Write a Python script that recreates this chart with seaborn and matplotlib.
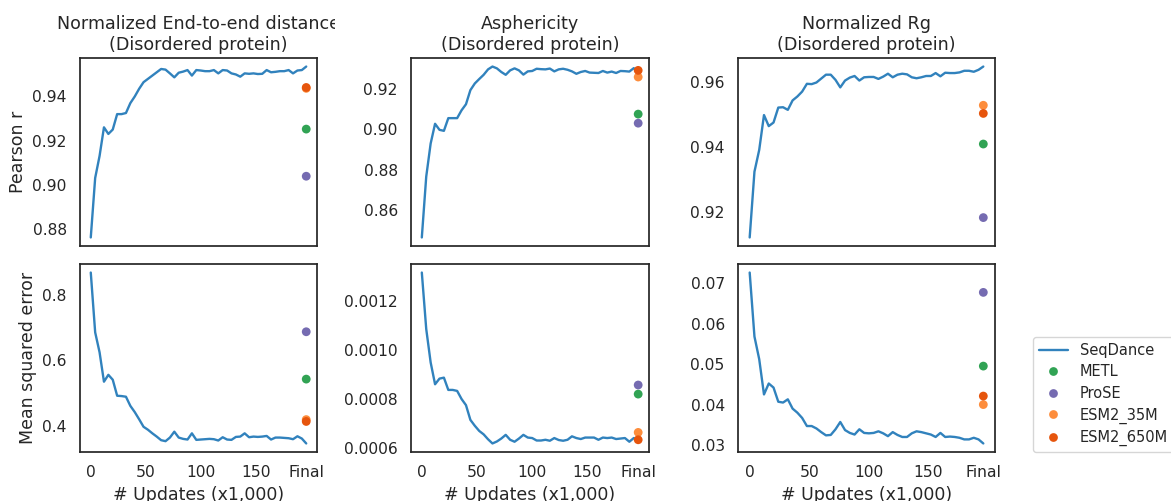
import numpy as np
import pandas as pd
import matplotlib
matplotlib.use("Agg")
import matplotlib.pyplot as plt
import seaborn as sns
from matplotlib.transforms import Bbox, TransformedBbox
from matplotlib.lines import Line2D

sns.set_theme(style="white", context="notebook")
plt.rcParams["font.family"] = ["DejaVu Sans"]

# ---------------- data ----------------
updates = [0, 4, 8, 12, 16, 20, 24, 28, 32, 36, 40, 44, 48, 52, 56, 60, 64, 68, 72, 76,
           80, 84, 88, 92, 96, 100, 104, 108, 112, 116, 120, 124, 128, 132, 136, 140,
           144, 148, 152, 156, 160, 164, 168, 172, 176, 180, 184, 188, 192, 196]
final_x = 196
xtick_vals = [0, 50, 100, 150, 196]
xtick_labels = ["0", "50", "100", "150", "Final"]

titles = ["Normalized End-to-end distance\n(Disordered protein)",
          "Asphericity\n(Disordered protein)",
          "Normalized Rg\n(Disordered protein)"]
row_labels = ["Pearson r", "Mean squared error"]
xlabel = "# Updates (x1,000)"

models = ["METL", "ProSE", "ESM2_35M", "ESM2_650M"]
colors = {"SeqDance": "#3182bd", "METL": "#31a354", "ProSE": "#756bb1",
          "ESM2_35M": "#fd8d3c", "ESM2_650M": "#e6550d"}

# SeqDance curves
e2e_r = [0.876, 0.903, 0.913, 0.926, 0.923, 0.925, 0.932, 0.932, 0.9325, 0.937,
         0.940, 0.9435, 0.9465, 0.948, 0.9495, 0.951, 0.9525, 0.9522, 0.9505, 0.9487,
         0.9508, 0.9513, 0.952, 0.9495, 0.952, 0.9518, 0.9515, 0.9515, 0.952, 0.9505,
         0.952, 0.9518, 0.9505, 0.950, 0.949, 0.9505, 0.9503, 0.9505, 0.9502, 0.9503,
         0.952, 0.951, 0.9512, 0.9515, 0.9515, 0.952, 0.9505, 0.9518, 0.952, 0.9536]
e2e_mse = [0.869, 0.686, 0.625, 0.535, 0.556, 0.541, 0.492, 0.491, 0.489, 0.461,
           0.442, 0.420, 0.397, 0.388, 0.377, 0.367, 0.356, 0.353, 0.364, 0.382,
           0.364, 0.360, 0.358, 0.377, 0.357, 0.358, 0.359, 0.360, 0.359, 0.355,
           0.365, 0.358, 0.357, 0.366, 0.367, 0.377, 0.365, 0.367, 0.366, 0.367,
           0.369, 0.358, 0.364, 0.364, 0.363, 0.362, 0.359, 0.368, 0.361, 0.346]
asph_r = [0.8464, 0.8766, 0.893, 0.9028, 0.8998, 0.8993, 0.9056, 0.9056, 0.9056, 0.9095,
          0.9125, 0.9195, 0.9228, 0.925, 0.9271, 0.9298, 0.9312, 0.9303, 0.9285, 0.9271,
          0.9293, 0.9303, 0.9293, 0.9272, 0.9288, 0.929, 0.9301, 0.9299, 0.9298, 0.9302,
          0.9288, 0.9298, 0.9301, 0.9296, 0.9288, 0.9276, 0.9285, 0.929, 0.9282, 0.9281,
          0.928, 0.929, 0.9282, 0.9287, 0.928, 0.929, 0.9289, 0.9287, 0.9304, 0.9285]
asph_mse = [0.001315, 0.001085, 0.000949, 0.000860, 0.000883, 0.000887, 0.000837, 0.000837,
            0.000833, 0.000800, 0.000775, 0.000715, 0.000691, 0.000670, 0.000656, 0.000636,
            0.000619, 0.000627, 0.000639, 0.000654, 0.000634, 0.000626, 0.000639, 0.000654,
            0.000643, 0.000641, 0.000631, 0.000631, 0.000634, 0.000630, 0.000641, 0.000633,
            0.000630, 0.000634, 0.000648, 0.000641, 0.000637, 0.000643, 0.000643, 0.000643,
            0.000634, 0.000643, 0.000641, 0.000643, 0.000637, 0.000639, 0.000641, 0.000626,
            0.000641, 0.000634]
rg_r = [0.9122, 0.9324, 0.9391, 0.9498, 0.9464, 0.9475, 0.9521, 0.9522, 0.9514, 0.9543,
        0.9555, 0.957, 0.9594, 0.9593, 0.9598, 0.961, 0.9622, 0.9622, 0.9606, 0.9583,
        0.9604, 0.9613, 0.9618, 0.9604, 0.9614, 0.9615, 0.9615, 0.9609, 0.9616, 0.9625,
        0.9614, 0.9622, 0.9625, 0.9623, 0.9614, 0.9611, 0.9614, 0.9618, 0.9618, 0.9627,
        0.9617, 0.9628, 0.9627, 0.9627, 0.9629, 0.9634, 0.9634, 0.9631, 0.9637, 0.9647]
rg_mse = [0.0727, 0.0569, 0.0513, 0.0426, 0.0453, 0.0443, 0.0408, 0.0406, 0.0414, 0.0391,
          0.0381, 0.0368, 0.0348, 0.0348, 0.0342, 0.0333, 0.0325, 0.0326, 0.0340, 0.0358,
          0.0338, 0.0331, 0.0327, 0.0340, 0.0331, 0.0330, 0.0331, 0.0335, 0.0330, 0.0323,
          0.0333, 0.0326, 0.0321, 0.0321, 0.0330, 0.0335, 0.0333, 0.0330, 0.0327, 0.0321,
          0.0331, 0.0321, 0.0322, 0.0321, 0.0319, 0.0315, 0.0315, 0.0319, 0.0315, 0.0305]

# Final values of baseline models: METL, ProSE, ESM2_35M, ESM2_650M
e2e_r_models = [0.9252, 0.9038, 0.9437, 0.9441]
e2e_mse_models = [0.5429, 0.6878, 0.419, 0.4133]
asph_r_models = [0.9076, 0.9031, 0.926, 0.9293]
asph_mse_models = [0.000820, 0.000857, 0.000664, 0.000634]
rg_r_models = [0.9409, 0.9183, 0.9528, 0.9503]
rg_mse_models = [0.0496, 0.0678, 0.0401, 0.0422]

curves = [[e2e_r, asph_r, rg_r], [e2e_mse, asph_mse, rg_mse]]
dots = [[e2e_r_models, asph_r_models, rg_r_models],
        [e2e_mse_models, asph_mse_models, rg_mse_models]]

ytick_sets = [[[0.88, 0.90, 0.92, 0.94], [0.86, 0.88, 0.90, 0.92], [0.92, 0.94, 0.96]],
              [[0.4, 0.6, 0.8], [0.0006, 0.0008, 0.0010, 0.0012],
               [0.03, 0.04, 0.05, 0.06, 0.07]]]
ytick_label_sets = [[["0.88", "0.90", "0.92", "0.94"], ["0.86", "0.88", "0.90", "0.92"],
                     ["0.92", "0.94", "0.96"]],
                    [["0.4", "0.6", "0.8"], ["0.0006", "0.0008", "0.0010", "0.0012"],
                     ["0.03", "0.04", "0.05", "0.06", "0.07"]]]

# ---------------- figure ----------------
fig = plt.figure(figsize=(11.71, 5.01), dpi=100)
W, H = 1171.0, 501.0
col_px = [(80, 317), (411, 649), (738, 995)]
row_px = [(58, 246), (264, 452)]

axes = []
for r in range(2):
    row = []
    for c in range(3):
        x0, x1 = col_px[c]
        t, b = row_px[r]
        ax = fig.add_axes([x0 / W, 1 - b / H, (x1 - x0) / W, (b - t) / H])
        row.append(ax)
    axes.append(row)

for r in range(2):
    for c in range(3):
        ax = axes[r][c]
        df_line = pd.DataFrame({"x": updates, "y": curves[r][c]})
        sns.lineplot(data=df_line, x="x", y="y", ax=ax, color=colors["SeqDance"],
                     linewidth=1.7, zorder=2)
        df_dots = pd.DataFrame({"x": [final_x] * len(models), "y": dots[r][c],
                                "model": models})
        sns.scatterplot(data=df_dots, x="x", y="y", hue="model", palette=colors,
                        hue_order=models, ax=ax, s=40, edgecolor="none", linewidth=0,
                        legend=False, zorder=3)
        ax.set_xticks(xtick_vals)
        if r == 0:
            ax.set_xticklabels([])
            ax.set_xlabel("")
        else:
            ax.set_xticklabels(xtick_labels)
            ax.set_xlabel(xlabel, fontsize=12.5)
        ax.set_yticks(ytick_sets[r][c])
        ax.set_yticklabels(ytick_label_sets[r][c])
        ax.set_ylabel(row_labels[r] if c == 0 else "", fontsize=12.5)
        ax.tick_params(labelsize=11.2)
        for sp in ax.spines.values():
            sp.set_color(".15")
            sp.set_linewidth(1.25)

for c in range(3):
    t = axes[0][c].set_title(titles[c], fontsize=12.6)
    if c == 0:
        clip = TransformedBbox(Bbox([[0, 0], [334.5 / W, 1]]), fig.transFigure)
        t.set_clip_box(clip)
        t.set_clip_on(True)

handles = [Line2D([0], [0], color=colors["SeqDance"], lw=1.7, label="SeqDance")]
for m in models:
    handles.append(Line2D([0], [0], marker="o", color="none", markerfacecolor=colors[m],
                          markeredgecolor="none", markersize=6.3, label=m))
fig.legend(handles=handles, loc="upper left", bbox_to_anchor=(1033 / W, 1 - 337 / H),
           borderaxespad=0, fontsize=10.5, labelspacing=0.45, frameon=True)

fig.savefig("out.png", dpi=100)
